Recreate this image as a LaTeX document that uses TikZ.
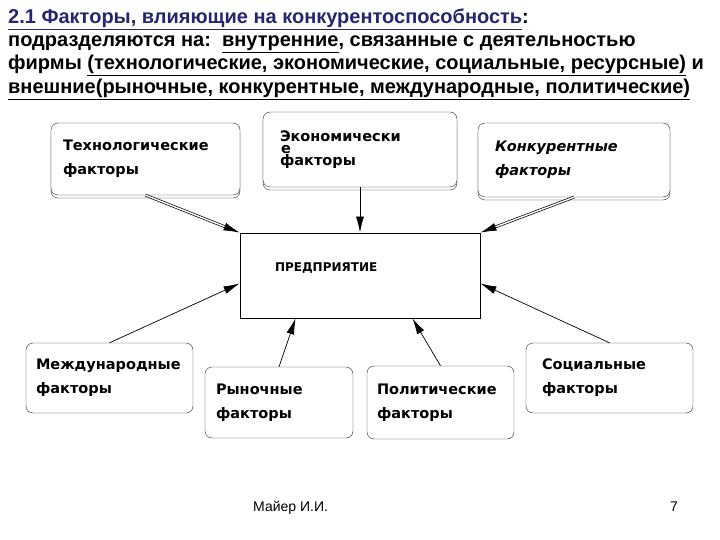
\documentclass[tikz,border=0pt]{standalone}
\usepackage{fontspec}
\setmainfont{Liberation Sans}
\newfontfamily\boxfont{DejaVu Sans}
\usetikzlibrary{arrows.meta}
\usetikzlibrary{shadows}
\definecolor{titleblue}{RGB}{38,38,110}

\begin{document}
\begin{tikzpicture}[x=1pt,y=-1pt,
  line/.style={anchor=base west,inner sep=0,font=\bfseries\fontsize{20}{23}\selectfont},
  factor/.style={draw=black!85,rounded corners=7,fill=white,align=left,inner xsep=12,inner ysep=0,
    font=\boxfont\bfseries\fontsize{14.5}{24}\selectfont},
  raised/.style={copy shadow={shadow xshift=0pt,shadow yshift=-3pt,draw=black!85,fill=white}},
  tip/.style={-{Latex[length=16,width=8]},line width=0.7},
  twin/.style={tip,double,double distance=1.4}]
\useasboundingbox (0,0) rectangle (720,540);

% heading
\node[line,text=titleblue] (h1) at (8,24) {\underline{2.1 Факторы, влияющие на конкурентоспособность}\textcolor{black}{:}};
\node[line] (h2) at (8,47) {подразделяются на:\ \ \underline{внутренние}, связанные с деятельностью};
\node[line] (h3) at (8,70) {фирмы \underline{(технологические, экономические, социальные, ресурсные)} и};
\node[line] (h4) at (8,94) {\underline{внешние(рыночные, конкурентные, международные, политические)}};

% factors
\node[factor,raised,text width=165,minimum height=72] (tech) at (145.5,159) {Технологические\\факторы};
\node[factor,raised,inner xsep=17,text width=160,minimum height=75] (econ) at (360,149.5) {Экономически\\факторы};
\node[anchor=base west,inner sep=0,font=\boxfont\bfseries\fontsize{14.5}{24}\selectfont] (econe) at (281,154) {е};
\node[factor,raised,inner xsep=17,text width=158,minimum height=74,font=\boxfont\bfseries\itshape\fontsize{14.5}{24}\selectfont] (konk) at (574,160) {Конкурентные\\факторы};

\node[draw,line width=0.9,minimum width=240,minimum height=85,align=left,text width=170,inner xsep=35,
  text height=9,text depth=17,font=\boxfont\bfseries\fontsize{12}{14}\selectfont] (ent) at (360,275.5) {ПРЕДПРИЯТИЕ};

\node[factor,inner xsep=10,text width=147,minimum height=70] (intl) at (109.5,378) {Международные\\факторы};
\node[factor,inner xsep=11,text width=126,minimum height=71] (market) at (279,402.5) {Рыночные\\факторы};
\node[factor,inner xsep=10,text width=127,minimum height=73] (polit) at (440.5,402.5) {Политические\\факторы};
\node[factor,inner xsep=16,text width=135,minimum height=70] (social) at (609.5,378) {Социальные\\факторы};

% arrows
\draw[twin] (tech.south) -- (ent.north west);
\draw[tip] (econ.south) -- (ent.north);
\draw[twin] (konk.south) -- (ent.north east);
\draw[tip] (intl.north) -- ([yshift=-8]ent.west);
\draw[tip] (social.north) -- ([yshift=-8]ent.east);
\draw[tip] (market.north) -- ([xshift=56]ent.south west);
\draw[tip] (polit.north) -- ([xshift=-68]ent.south east);

% footer
\node[anchor=base west,inner sep=0,font=\fontsize{14}{16}\selectfont] (author) at (253,511) {Майер И.И.};
\node[anchor=base west,inner sep=0,font=\fontsize{14}{16}\selectfont] (page) at (670,511) {7};
\end{tikzpicture}
\end{document}
